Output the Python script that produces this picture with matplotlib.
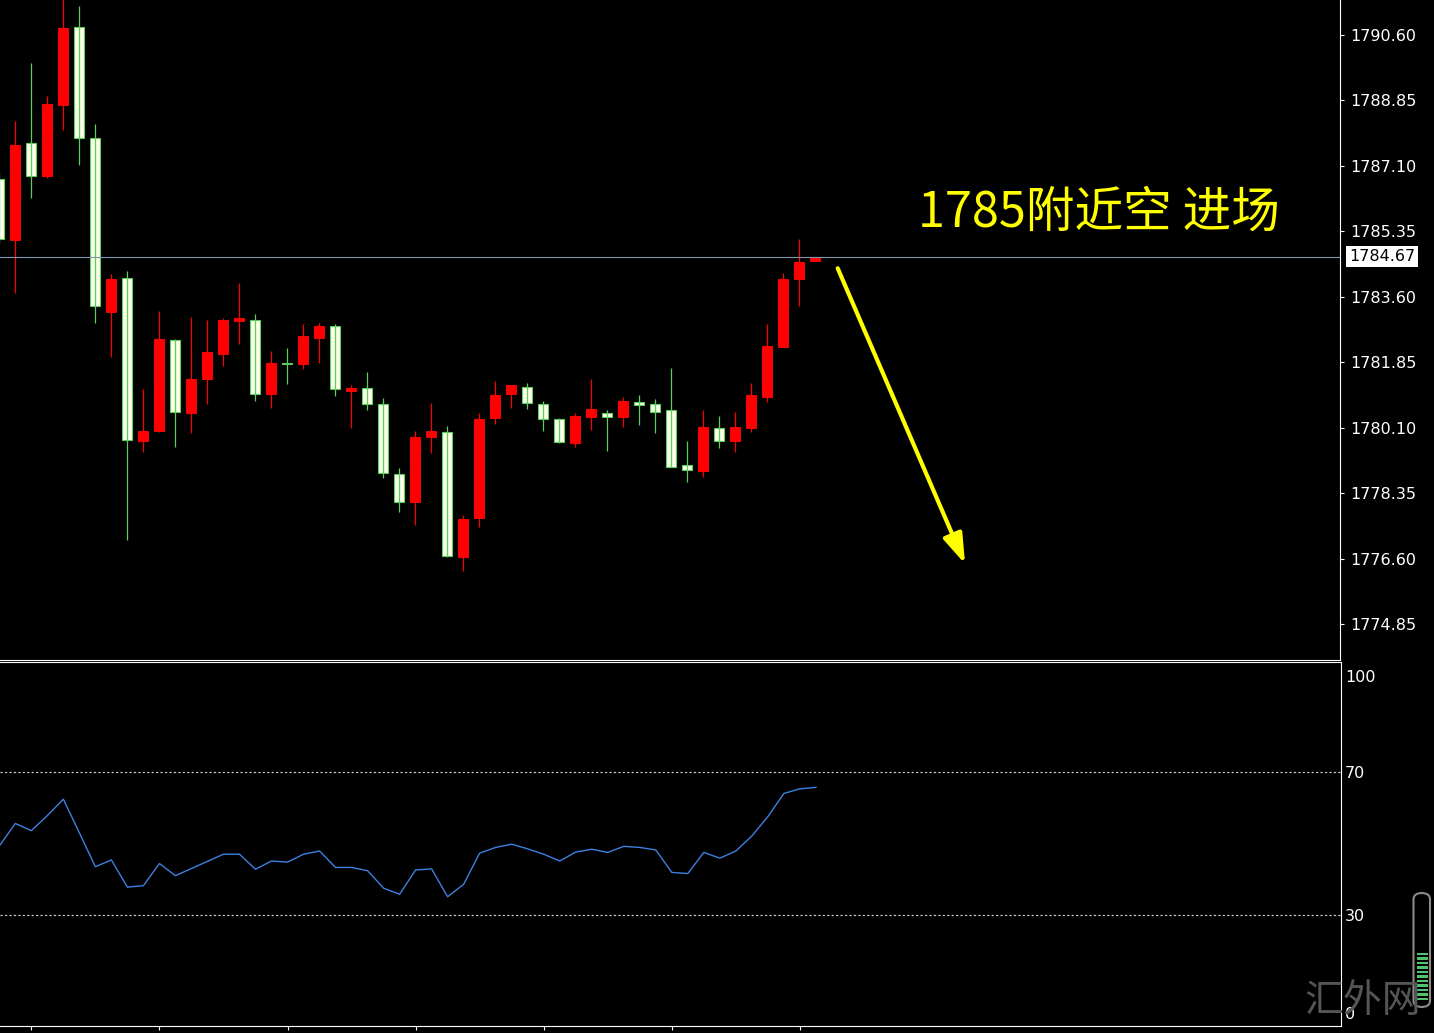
import numpy as np
import matplotlib
matplotlib.use("Agg")
import matplotlib.pyplot as plt
from matplotlib.patches import FancyBboxPatch, Rectangle
from matplotlib.transforms import blended_transform_factory

# candle data, red = up, white = down
opens = [1786.74, 1785.11, 1787.70, 1786.82, 1788.72, 1790.81, 1787.84, 1783.18, 1784.09, 1779.75,
         1780.00, 1782.43, 1780.49, 1781.39, 1782.06, 1782.94, 1782.98, 1780.99, 1781.82, 1781.80,
         1782.49, 1782.83, 1781.07, 1781.16, 1780.74, 1778.86, 1778.10, 1779.84, 1779.99, 1776.63,
         1777.68, 1780.35, 1781.01, 1781.19, 1780.74, 1780.34, 1779.68, 1780.38, 1780.50, 1780.38,
         1780.79, 1780.72, 1780.58, 1779.09, 1778.95, 1780.09, 1779.73, 1780.08, 1780.91, 1782.25,
         1784.06, 1784.55]
highs = [1786.90, 1788.29, 1789.84, 1788.96, 1791.80, 1791.37, 1788.21, 1784.20, 1784.30, 1781.12,
         1783.21, 1782.46, 1783.05, 1782.97, 1783.02, 1783.96, 1783.13, 1782.16, 1782.22, 1782.86,
         1782.89, 1782.86, 1781.24, 1781.58, 1780.90, 1779.02, 1780.02, 1780.75, 1780.15, 1777.77,
         1780.49, 1781.34, 1781.25, 1781.29, 1780.80, 1780.35, 1780.50, 1781.39, 1780.58, 1780.93,
         1780.96, 1780.87, 1781.69, 1779.74, 1780.56, 1780.40, 1780.53, 1781.30, 1782.88, 1784.24,
         1785.13, 1784.67]
lows = [1785.00, 1783.69, 1786.23, 1786.77, 1788.05, 1787.11, 1782.89, 1782.00, 1777.11, 1779.46,
        1779.98, 1779.59, 1779.97, 1780.74, 1781.76, 1782.33, 1780.82, 1780.62, 1781.27, 1781.67,
        1781.82, 1780.94, 1780.08, 1780.58, 1778.75, 1777.84, 1777.51, 1779.41, 1776.64, 1776.28,
        1777.45, 1780.21, 1780.63, 1780.59, 1780.00, 1779.69, 1779.58, 1780.05, 1779.47, 1780.13,
        1780.18, 1779.95, 1779.04, 1778.64, 1778.79, 1779.56, 1779.46, 1779.98, 1780.78, 1782.25,
        1783.34, 1784.55]
closes = [1785.13, 1787.65, 1786.82, 1788.75, 1790.79, 1787.85, 1783.34, 1784.08, 1779.78, 1780.02,
          1782.46, 1780.53, 1781.39, 1782.11, 1782.97, 1783.02, 1781.01, 1781.84, 1781.81, 1782.54,
          1782.83, 1781.14, 1781.16, 1780.74, 1778.88, 1778.11, 1779.86, 1780.00, 1776.66, 1777.66,
          1780.34, 1780.96, 1781.23, 1780.76, 1780.34, 1779.71, 1780.42, 1780.60, 1780.38, 1780.82,
          1780.70, 1780.51, 1779.04, 1778.97, 1780.13, 1779.74, 1780.13, 1780.96, 1782.27, 1784.08,
          1784.54, 1784.67]
rsi = [49.3, 55.6, 53.6, 57.8, 62.4, 53.0, 43.5, 45.4, 37.8, 38.2,
       44.4, 41.0, 43.0, 45.0, 47.0, 47.0, 42.8, 45.1, 44.8, 47.0,
       47.9, 43.3, 43.3, 42.4, 37.5, 35.8, 42.6, 42.9, 35.1, 38.6,
       47.3, 48.9, 49.8, 48.5, 47.0, 45.1, 47.6, 48.4, 47.5, 49.2,
       48.9, 48.2, 41.9, 41.6, 47.5, 45.9, 47.9, 52.1, 57.5, 64.0,
       65.3, 65.7]

price_ticks = [1774.85, 1776.60, 1778.35, 1780.10, 1781.85, 1783.60, 1785.35, 1787.10, 1788.85, 1790.60]
rsi_levels = [70, 30]
last_price = 1784.67
note_text = "1785附近空 进场"
note_pos = (57.4, 1785.83)
arrow_start = (52.4, 1784.36)
arrow_end = (60.36, 1776.46)
watermark = "汇外网"

W, H = 1434, 1033
cjk = ['Noto Sans CJK SC', 'DejaVu Sans']
lab_size = 11.5

fig = plt.figure(figsize=(W / 100, H / 100), dpi=100, facecolor='black')
ax = fig.add_axes([0, 1 - 660 / H, 1339.5 / W, 660 / H], facecolor='black')
ax2 = fig.add_axes([0, 1 - 1026 / H, 1340.5 / W, 364 / H], facecolor='black')

x = np.arange(len(opens))
o = np.array(opens); c = np.array(closes)
up = c >= o
red = '#ff0000'
cream = '#fbffe8'
green = '#5ccc5c'

# wicks
ax.vlines(x[up], np.array(lows)[up], np.array(highs)[up], color=red, lw=0.9)
ax.vlines(x[~up], np.array(lows)[~up], np.array(highs)[~up], color=green, lw=0.9)
# bodies
bw = 0.64
ax.bar(x[up], (c - o)[up], bottom=o[up], width=bw, color=red, edgecolor=red, lw=0.7)
ax.bar(x[~up], (o - c)[~up], bottom=c[~up], width=bw, color=cream, edgecolor=green, lw=0.8)

xlim = (0.044, 0.044 + 1339.5 / 16)
ax.set_xlim(*xlim)
ax.set_ylim(1773.89, 1791.53)

ax.axhline(last_price, color='#8194b0', lw=0.8)

tr = blended_transform_factory(ax.transAxes, ax.transData)
ax.text(1349 / 1339.5, last_price, "%.2f" % last_price, transform=tr, ha='left', va='center',
        fontsize=lab_size, color='black', clip_on=False,
        bbox=dict(boxstyle='square,pad=0.2', fc='white', ec='none'))

ax.text(note_pos[0], note_pos[1], note_text, color='#ffff00', fontsize=35, family=cjk,
        ha='left', va='center')
ax.annotate('', xy=arrow_end, xytext=arrow_start,
            arrowprops=dict(arrowstyle='-|>,head_length=0.9,head_width=0.3', lw=3,
                            color='#ffff00', mutation_scale=20, shrinkA=0, shrinkB=0))

ax.yaxis.tick_right()
ax.set_yticks(price_ticks)
ax.set_yticklabels(["%.2f" % p for p in price_ticks])
ax.tick_params(axis='y', colors='white', labelcolor='white', length=3, width=0.8, pad=5,
               labelsize=lab_size)
ax.set_xticks([])
for s in ['left', 'top']:
    ax.spines[s].set_visible(False)
for s in ['right', 'bottom']:
    ax.spines[s].set_color('white')
    ax.spines[s].set_linewidth(0.8)

# RSI panel
ax2.plot(x, rsi, color='#3d80e0', lw=1)
for lv in rsi_levels:
    ax2.axhline(lv, color='#d8d8d8', lw=0.8, ls=(0, (2, 2)))
ax2.set_xlim(*xlim)
ax2.set_ylim(-1.05, 100.77)
ax2.yaxis.tick_right()
ax2.set_yticks(rsi_levels)
ax2.set_yticklabels([str(t) for t in rsi_levels])
ax2.tick_params(axis='y', colors='white', labelcolor='white', length=0, pad=3, labelsize=lab_size)
tr2 = blended_transform_factory(ax2.transAxes, ax2.transData)
ax2.text(1345 / 1340.5, 96.3, "100", transform=tr2, ha='left', va='center', color='white',
         fontsize=lab_size, clip_on=False)
ax2.text(1345 / 1340.5, 2.3, "0", transform=tr2, ha='left', va='center', color='white',
         fontsize=lab_size, clip_on=False)
ax2.set_xticks(x[2::8])
ax2.set_xticklabels([])
ax2.tick_params(axis='x', colors='white', length=3, width=0.8)
ax2.spines['left'].set_visible(False)
for s in ['right', 'bottom', 'top']:
    ax2.spines[s].set_color('white')
    ax2.spines[s].set_linewidth(0.8)

# watermark and signal meter in the corner
fig.text(1304 / W, 1 - 1001 / H, watermark, color='#555555', fontsize=28, family=cjk,
         ha='left', va='center')
fig.patches.append(FancyBboxPatch((1413.5 / W, 1 - 1007 / H), 16.5 / W, 114 / H,
                                  boxstyle='round,pad=0,rounding_size=0.006',
                                  transform=fig.transFigure, fc='none', ec='#8a8a8a', lw=1.5))
for k in range(11):
    yb = 1000 - k * 4.5
    fig.patches.append(Rectangle((1416.5 / W, 1 - yb / H), 11 / W, 2.3 / H,
                                 transform=fig.transFigure, fc='#4fc46c', ec='none'))

fig.savefig('out.png', dpi=100, facecolor='black')
